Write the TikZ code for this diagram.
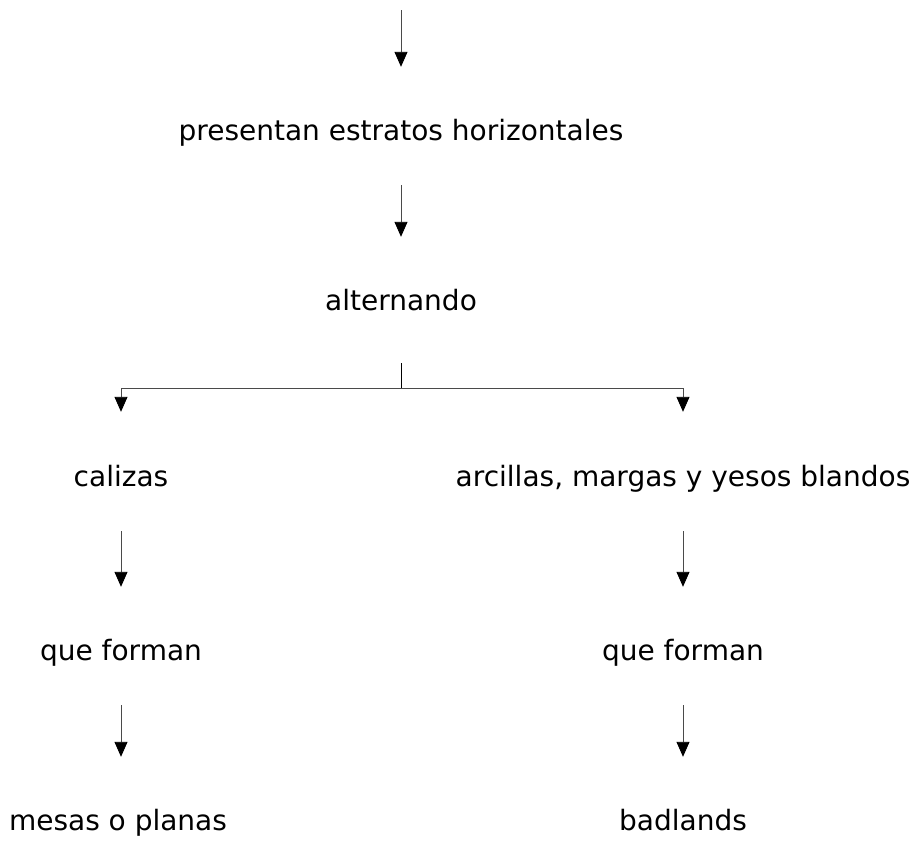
\documentclass[tikz,border=0pt]{standalone}
\usepackage{fontspec}
\setmainfont{DejaVu Sans}
\usetikzlibrary{positioning,arrows.meta}
\definecolor{Ink}{HTML}{000000}
\definecolor{Wire}{HTML}{4A4A4A}

\begin{document}
\begin{tikzpicture}[x=1pt,y=-1pt]
\useasboundingbox (0,0) rectangle (922,847);
\tikzset{
  txt/.style={inner sep=0pt, text height=23pt, text depth=7pt, font=\fontsize{28}{33}\selectfont, text=Ink},
  wire/.style={draw=Wire, line width=0.9pt},
  arr/.style={wire, -{Triangle[width=13pt,length=15pt,color=Ink,fill=Ink]}, shorten <=38pt, shorten >=50pt}
}

% Levels
\coordinate (top) at (401,10);
\node[txt] (pres) at (401,132) {presentan estratos horizontales};
\node[txt] (alt) at (401,302) {alternando};
\coordinate (fork) at (401,388);

% Left branch
\node[txt] (cal) at (121,478) {calizas};
\node[txt] (qfl) at (121,652) {que forman};
\node[txt] (mes) at (118,822) {mesas o planas};

% Right branch
\node[txt] (arc) at (683,478) {arcillas, margas y yesos blandos};
\node[txt] (qfr) at (683,652) {que forman};
\node[txt] (bad) at (683,822) {badlands};

% Connectors
\draw[arr, shorten <=0pt] (top) -- (pres);
\draw[arr] (pres) -- (alt);
\draw[wire, draw=Ink, shorten <=46pt] (alt) -- (fork);
\draw[arr, shorten <=0pt, shorten >=51pt] (fork) -| (cal);
\draw[arr, shorten <=0pt, shorten >=51pt] (fork) -| (arc);
\draw[arr] (cal) -- (qfl);
\draw[arr] (qfl) -- (qfl |- mes.north);
\draw[arr] (arc) -- (qfr);
\draw[arr] (qfr) -- (bad);
\end{tikzpicture}
\end{document}
